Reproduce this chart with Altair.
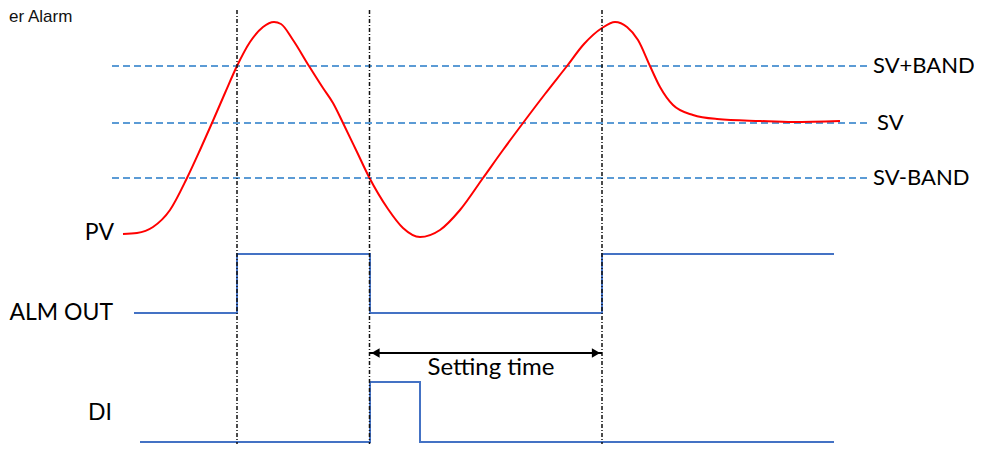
import altair as alt
import pandas as pd

# ---- data ----
pv_t = [123, 137, 153, 170, 187, 200, 212, 225, 237, 250, 263, 274, 281, 293, 309, 323, 333, 343,
        357, 369, 388, 403, 420, 440, 460, 483, 503, 523, 545, 567, 584, 602, 615, 627, 638, 650,
        660, 673, 693, 717, 760, 793, 840]
pv_v = [234, 233, 227, 210, 178, 150, 123, 93, 66, 42, 27, 22, 24, 40, 66, 88, 103, 123,
        152, 177, 209, 228, 237, 230, 210, 178, 150, 123, 94, 66, 44, 28, 22, 27, 40, 66,
        87, 105, 115, 119, 121, 122, 121]

alm_t = [134, 237, 370, 602, 834]
alm_v = [313, 254, 313, 254, 254]

di_t = [140, 370, 420, 834]
di_v = [442, 382, 442, 442]

band_names = ["SV+BAND", "SV", "SV-BAND"]
band_levels = [66, 123, 178]
band_from = [112, 112, 112]
band_to = [870, 870, 870]

event_t = [237, 369.5, 602]
event_top = [10, 10, 10]
event_bottom = [452, 452, 452]

left_labels = ["PV", "ALM OUT", "DI"]
left_label_y = [233, 313, 413]
left_label_x = [114, 113, 112]

right_label_x = [873, 877, 873]

setting_from, setting_to, setting_level = 369.5, 602, 353
setting_text = "Setting time"

title_text = "er Alarm"

# ---- tables ----
pv_df = pd.DataFrame({"t": pv_t, "v": pv_v})
alm_df = pd.DataFrame({"t": alm_t, "v": alm_v})
di_df = pd.DataFrame({"t": di_t, "v": di_v})
band_df = pd.DataFrame({"name": band_names, "v": band_levels, "t": band_from, "t2": band_to,
                        "lx": right_label_x})
event_df = pd.DataFrame({"t": event_t, "v": event_top, "v2": event_bottom})
left_df = pd.DataFrame({"name": left_labels, "t": left_label_x, "v": left_label_y})
arrow_df = pd.DataFrame({"t": [setting_from], "t2": [setting_to], "v": [setting_level]})
tip_l = pd.DataFrame({"t": [setting_from + 6], "v": [setting_level]})
tip_r = pd.DataFrame({"t": [setting_to - 6], "v": [setting_level]})
stext_df = pd.DataFrame({"t": [491], "v": [368], "name": [setting_text]})
title_df = pd.DataFrame({"t": [9], "v": [9], "name": [title_text]})

xs = alt.Scale(domain=[0, 974], nice=False, zero=False)
ys = alt.Scale(domain=[0, 444], nice=False, zero=False, reverse=True)

def X(f="t"):
    return alt.X(f"{f}:Q", scale=xs, axis=None)

def Y(f="v"):
    return alt.Y(f"{f}:Q", scale=ys, axis=None)

FONT = "Lato"

bands = alt.Chart(band_df).mark_rule(color="#5B9BD5", strokeWidth=2, strokeDash=[7, 4]).encode(
    x=X(), x2="t2:Q", y=Y())

pv = alt.Chart(pv_df).mark_line(color="#FF0000", strokeWidth=2, interpolate="monotone").encode(
    x=X(), y=Y())

alm = alt.Chart(alm_df).mark_line(color="#4472C4", strokeWidth=2, interpolate="step-after").encode(
    x=X(), y=Y())

di = alt.Chart(di_df).mark_line(color="#4472C4", strokeWidth=2, interpolate="step-after").encode(
    x=X(), y=Y())

events = alt.Chart(event_df).mark_rule(color="#111111", strokeWidth=1.5, strokeDash=[4, 2, 1, 2]).encode(
    x=X(), y=Y(), y2="v2:Q")

arrow = alt.Chart(arrow_df).mark_rule(color="black", strokeWidth=2).encode(x=X(), x2="t2:Q", y=Y())
tipl = alt.Chart(tip_l).mark_point(shape="triangle-left", filled=True, color="black", size=90, opacity=1).encode(
    x=X(), y=Y())
tipr = alt.Chart(tip_r).mark_point(shape="triangle-right", filled=True, color="black", size=90, opacity=1).encode(
    x=X(), y=Y())

right_text = alt.Chart(band_df).mark_text(font=FONT, fontSize=22, align="left", baseline="middle",
                                          color="black").encode(x=X("lx"), y=Y(), text="name:N")
left_text = alt.Chart(left_df).mark_text(font=FONT, fontSize=23, align="right", baseline="middle",
                                         color="black").encode(x=X(), y=Y(), text="name:N")
stext = alt.Chart(stext_df).mark_text(font=FONT, fontSize=24, align="center", baseline="middle",
                                      color="black").encode(x=X(), y=Y(), text="name:N")
title = alt.Chart(title_df).mark_text(font="Liberation Sans", fontSize=17, align="left",
                                      baseline="top", color="#111111").encode(
    x=X(), y=Y(), text="name:N")

chart = alt.layer(bands, pv, alm, di, events, arrow, tipl, tipr, right_text, left_text, stext, title).properties(
    width=974, height=444,
    autosize=alt.AutoSizeParams(type="none"),
    padding={"left": -8, "top": -8, "right": 0, "bottom": 0},
).configure_view(stroke=None)

chart.save("out.html", embed_options={"renderer": "svg", "actions": False})
